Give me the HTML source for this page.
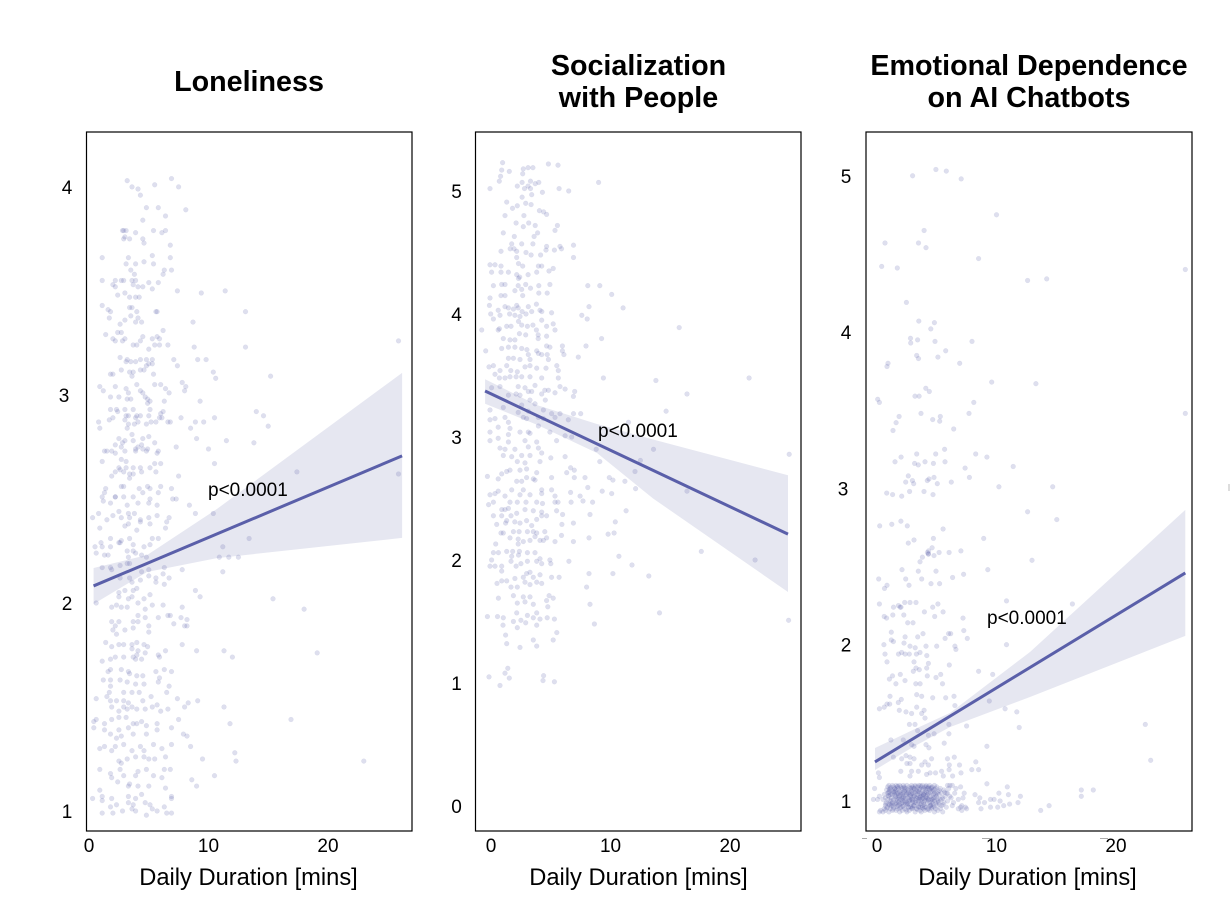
<!DOCTYPE html>
<html lang="en">
<head>
<meta charset="utf-8">
<title>Daily Duration vs Loneliness, Socialization and Emotional Dependence</title>
<style>
html,body{margin:0;padding:0;background:#fff;width:1230px;height:916px;overflow:hidden}
svg{display:block;font-family:"Liberation Sans",Arial,sans-serif}
.title{font-size:28.7px;font-weight:700;text-anchor:middle;fill:#000}
.tick{font-size:19px;fill:#000}
.axis-title{font-size:23.7px;text-anchor:middle;fill:#000}
.pval{font-size:19px;fill:#000}
</style>
</head>
<body>
<svg id="chart" xmlns="http://www.w3.org/2000/svg" width="1230" height="916" viewBox="0 0 1230 916">
  <rect width="1230" height="916" fill="#fff"/>
  <text class="title" x="249" y="91">Loneliness</text>
  <text class="title" x="638.5" y="75">Socialization</text>
  <text class="title" x="638.5" y="107">with People</text>
  <text class="title" x="1029" y="75">Emotional Dependence</text>
  <text class="title" x="1029" y="107">on AI Chatbots</text>
  <text class="axis-title" x="248.5" y="885">Daily Duration [mins]</text>
  <text class="axis-title" x="638.5" y="885">Daily Duration [mins]</text>
  <text class="axis-title" x="1027.5" y="885">Daily Duration [mins]</text>
  <rect x="862" y="838" width="5" height="1" fill="#aaa"/>
  <rect x="982" y="838" width="8" height="1" fill="#aaa"/>
  <rect x="1100" y="838" width="8" height="1" fill="#aaa"/>
  <rect x="1228" y="484" width="2" height="7" fill="#ddd"/>
</svg>
<script>
const xTicks = [0, 10, 20];
const lonelinessYTicks = [1, 2, 3, 4];
const socializationYTicks = [0, 1, 2, 3, 4, 5];
const dependenceYTicks = [1, 2, 3, 4, 5];

const lonelinessFit = [[0.38, 2.082], [26.2, 2.707]];
const socializationFit = [[-0.5, 3.374], [24.85, 2.211]];
const dependenceFit = [[-0.17, 1.25], [25.8, 2.459]];

const lonelinessBandMinutes = [0.38, 4.85, 10.7, 26.2];
const lonelinessBandUpper = [2.168, 2.23, 2.452, 3.106];
const lonelinessBandLower = [1.995, 2.149, 2.216, 2.313];
const socializationBandMinutes = [-0.5, 3.85, 8.87, 13.56, 24.85];
const socializationBandUpper = [3.47, 3.26, 3.106, 2.98, 2.69];
const socializationBandLower = [3.27, 3.10, 2.87, 2.50, 1.74];
const dependenceBandMinutes = [-0.17, 3.0, 6.1, 12.8, 25.8];
const dependenceBandUpper = [1.339, 1.454, 1.563, 1.953, 2.862];
const dependenceBandLower = [1.198, 1.345, 1.473, 1.665, 2.056];

const lonelinessPoints = [
[3.2,4.03],[3.6,4.0],[4.1,3.99],[4.3,3.96],[5.5,4.01],[6.9,4.04],[7.5,4.0],[4.8,3.9],[5.8,3.9],[8.1,3.89],[6.4,3.86],[4.5,3.84],[2.8,3.79],[3.1,3.79],[2.9,3.79],[3.9,3.78],[5.4,3.79],[6.1,3.78],[6.4,3.79],[3.0,3.76],[3.4,3.75],[2.9,3.75],[4.5,3.75],[4.6,3.73],[6.8,3.72],
[1.1,3.66],[3.3,3.66],[5.3,3.67],[6.8,3.66],[4.6,3.64],[3.1,3.63],[3.9,3.63],[5.4,3.63],[3.5,3.6],[3.8,3.58],[6.3,3.6],[6.9,3.6],[6.2,3.58],[1.1,3.55],[2.2,3.55],[2.0,3.53],[2.7,3.55],[2.9,3.55],[3.6,3.55],[3.9,3.55],[5.0,3.54],[5.8,3.54],[3.7,3.53],[4.1,3.52],[4.5,3.52],[2.2,3.52],[5.3,3.51],[7.4,3.5],[9.4,3.49],[11.4,3.5],[2.4,3.48],[3.0,3.49],[3.4,3.47],[3.9,3.47],[4.2,3.47],
[1.1,3.43],[1.6,3.41],[1.8,3.4],[3.4,3.42],[3.6,3.42],[4.0,3.4],[5.6,3.4],[5.7,3.4],[1.7,3.37],[3.5,3.38],[3.0,3.36],[4.1,3.37],[3.9,3.35],[4.4,3.35],[2.6,3.34],[8.7,3.35],[13.1,3.4],[1.4,3.29],[2.4,3.3],[2.7,3.3],[6.2,3.31],[5.7,3.28],[4.5,3.28],[2.0,3.27],[3.0,3.27],[2.2,3.26],[2.8,3.26],[4.3,3.26],[5.3,3.27],[5.9,3.27],[5.5,3.24],[5.9,3.24],[3.7,3.24],[4.0,3.24],[5.0,3.22],[6.6,3.24],[8.8,3.23],[13.1,3.23],[25.9,3.26],
[2.6,3.18],[3.2,3.17],[3.1,3.16],[3.5,3.16],[3.9,3.16],[4.3,3.17],[4.8,3.17],[5.3,3.17],[7.1,3.17],[9.1,3.17],[9.8,3.17],[7.4,3.14],[5.0,3.15],[5.3,3.15],[4.8,3.14],[4.6,3.12],[2.7,3.12],[3.7,3.11],[3.4,3.11],[1.8,3.1],[2.0,3.1],[3.6,3.09],[4.3,3.12],[5.4,3.1],[10.4,3.11],[10.6,3.08],[15.2,3.09],
[0.9,3.04],[2.2,3.04],[4.0,3.05],[3.1,3.03],[4.3,3.02],[5.5,3.05],[6.0,3.05],[7.8,3.06],[8.1,3.04],[8.0,3.02],[6.4,3.03],[6.7,3.01],[1.2,3.02],[1.8,2.99],[2.5,2.99],[3.3,3.01],[3.5,2.98],[3.2,2.98],[4.5,3.01],[4.7,2.99],[4.9,2.98],[5.1,2.97],[4.9,2.96],[6.3,2.97],[9.3,2.97],
[2.3,2.93],[1.8,2.93],[2.4,2.92],[3.0,2.93],[3.7,2.93],[5.1,2.93],[6.2,2.92],[6.0,2.91],[3.1,2.9],[3.3,2.9],[4.0,2.9],[4.3,2.9],[5.0,2.9],[5.9,2.89],[6.1,2.89],[7.7,2.89],[10.5,2.89],[14.0,2.92],[14.6,2.9],[15.0,2.85],
[0.8,2.87],[1.7,2.88],[2.0,2.89],[3.0,2.88],[3.9,2.89],[4.1,2.87],[3.3,2.86],[3.8,2.86],[5.2,2.87],[5.6,2.87],[6.6,2.87],[6.8,2.87],[0.9,2.84],[3.2,2.84],[4.8,2.86],[8.9,2.87],[9.6,2.87],[8.5,2.84],
[3.6,2.81],[2.5,2.79],[4.5,2.79],[5.0,2.8],[9.0,2.79],[3.7,2.78],[2.8,2.77],[2.2,2.76],[3.0,2.78],[4.4,2.76],[5.5,2.77],[2.7,2.75],[3.9,2.74],[4.1,2.75],[4.5,2.74],[4.9,2.74],[7.3,2.75],[11.5,2.78],[13.8,2.77],
[1.3,2.73],[1.5,2.73],[1.9,2.73],[2.2,2.72],[3.0,2.73],[3.9,2.73],[4.8,2.73],[5.8,2.73],[5.7,2.72],[10.0,2.74],[1.1,2.68],[2.7,2.69],[3.1,2.68],[5.5,2.67],[6.0,2.67],[10.5,2.67],[2.5,2.65],[2.6,2.64],[2.9,2.63],[3.1,2.65],[3.7,2.65],[4.3,2.65],[4.4,2.63],[5.1,2.65],[5.6,2.63],[1.9,2.61],[2.2,2.63],[3.4,2.62],[3.7,2.62],[3.4,2.6],[7.5,2.61],[17.4,2.63],[25.9,2.62],
[2.7,2.56],[2.9,2.56],[4.2,2.55],[4.9,2.56],[6.0,2.56],[1.4,2.55],[1.3,2.53],[2.2,2.51],[2.9,2.51],[4.5,2.53],[5.1,2.55],[5.8,2.53],[6.9,2.55],[1.1,2.51],[2.2,2.51],[3.7,2.51],[5.1,2.5],[7.0,2.5],[7.3,2.5],
[1.2,2.49],[1.8,2.48],[3.2,2.47],[4.1,2.48],[5.0,2.48],[5.7,2.47],[8.4,2.47],[0.3,2.41],[0.8,2.43],[1.5,2.4],[2.0,2.42],[2.5,2.44],[3.3,2.43],[3.8,2.43],[2.7,2.41],[3.4,2.41],[4.3,2.4],[5.0,2.41],[5.7,2.42],[6.7,2.41],[8.9,2.43],[10.4,2.43],[0.9,2.36],[3.0,2.37],[3.3,2.38],[4.3,2.39],[5.1,2.38],[6.5,2.39],[6.4,2.36],[4.0,2.35],[1.8,2.31],[2.6,2.29],[3.4,2.31],[2.7,2.3],[5.3,2.31],[5.8,2.31],[1.0,2.29],[0.5,2.27],[1.1,2.27],[1.8,2.27],[2.5,2.29],[3.7,2.28],[4.6,2.27],[5.1,2.28],[13.4,2.31],[11.2,2.27],
[0.6,2.24],[1.3,2.23],[1.6,2.23],[3.2,2.25],[3.7,2.25],[3.9,2.24],[3.3,2.22],[4.4,2.23],[4.8,2.22],[1.1,2.17],[1.8,2.17],[2.6,2.18],[3.2,2.19],[3.4,2.19],[1.9,2.16],[10.9,2.22],[11.7,2.22],[12.5,2.22],[7.8,2.16],[6.3,2.17],[6.2,2.14],[5.0,2.16],[4.4,2.15],[11.2,2.15],
[2.6,2.12],[3.4,2.12],[3.6,2.1],[4.3,2.11],[5.0,2.13],[5.6,2.12],[6.7,2.12],[5.6,2.1],[6.3,2.09],[8.9,2.06],[9.3,2.03],[15.4,2.02],[2.5,2.05],[3.0,2.06],[3.7,2.06],[4.0,2.07],[2.5,2.03],[3.3,2.02],[3.6,2.03],[4.6,2.02],[5.1,2.04],[0.6,2.0],[2.3,1.99],[2.7,1.98],[3.2,1.98],[4.1,2.0],[4.7,1.97],[5.3,1.99],[6.2,1.99],[1.9,1.98],[7.8,1.98],[18.0,1.97],
[4.1,1.94],[5.8,1.93],[6.6,1.94],[6.8,1.94],[7.7,1.93],[8.2,1.92],[1.9,1.91],[2.5,1.91],[3.7,1.91],[4.1,1.91],[4.7,1.93],[5.0,1.89],[7.1,1.9],[8.0,1.89],[8.2,1.89],[2.2,1.89],[2.0,1.87],[3.0,1.87],[3.7,1.88],[5.0,1.86],[2.3,1.85],[1.4,1.81],[1.9,1.79],[2.5,1.8],[2.9,1.8],[3.6,1.8],[4.0,1.81],[4.6,1.8],[4.9,1.79],[7.8,1.8],[3.6,1.78],[4.1,1.77],[4.0,1.75],[4.7,1.76],[6.4,1.77],[9.0,1.77],[11.3,1.77],[5.8,1.75],[19.1,1.76],[12.0,1.74],
[1.1,1.72],[1.8,1.73],[2.2,1.74],[2.9,1.74],[3.7,1.74],[3.9,1.73],[4.4,1.73],[5.9,1.74],[1.6,1.67],[1.8,1.68],[2.7,1.68],[3.4,1.66],[3.3,1.67],[4.0,1.65],[4.5,1.65],[5.6,1.67],[6.3,1.68],[6.9,1.67],[1.2,1.63],[1.8,1.63],[2.6,1.63],[3.2,1.62],[3.9,1.61],[4.6,1.61],[5.8,1.62],[5.9,1.64],[1.8,1.6],[6.7,1.6],[1.7,1.57],[2.9,1.57],[3.6,1.57],[4.2,1.57],[6.5,1.57],[1.5,1.55],[0.6,1.54],[1.8,1.53],[2.3,1.53],[2.9,1.53],[3.3,1.52],[5.2,1.55],[4.5,1.53],[7.4,1.54],[8.3,1.52],[9.1,1.53],
[1.9,1.5],[2.9,1.5],[3.6,1.5],[4.0,1.49],[4.7,1.49],[5.3,1.5],[5.7,1.51],[6.6,1.49],[11.3,1.5],[8.0,1.5],[2.5,1.48],[3.2,1.49],[6.0,1.48],[0.6,1.44],[0.4,1.43],[1.9,1.44],[2.5,1.45],[3.1,1.45],[4.0,1.42],[4.4,1.43],[3.7,1.42],[5.7,1.42],[7.5,1.44],[16.9,1.44],[0.4,1.4],[1.3,1.42],[1.3,1.39],[2.5,1.39],[3.3,1.4],[4.8,1.41],[5.7,1.39],[6.9,1.4],[11.8,1.42],
[1.8,1.37],[2.3,1.35],[2.7,1.36],[3.7,1.37],[4.8,1.37],[7.9,1.37],[8.2,1.36],[0.9,1.3],[1.3,1.31],[1.9,1.29],[2.2,1.31],[2.9,1.32],[3.6,1.29],[4.3,1.31],[4.6,1.29],[5.4,1.32],[6.1,1.3],[6.9,1.32],[8.5,1.31],[2.5,1.24],[2.7,1.23],[3.2,1.25],[3.9,1.26],[4.6,1.26],[5.0,1.25],[5.5,1.25],[6.4,1.26],[9.5,1.25],[12.2,1.28],[12.3,1.24],[23.0,1.24],
[0.9,1.2],[1.8,1.18],[2.6,1.2],[2.9,1.17],[3.9,1.17],[4.1,1.19],[4.8,1.2],[5.4,1.17],[6.3,1.2],[6.8,1.2],[6.1,1.16],[8.6,1.15],[10.5,1.17],[9.0,1.12],[1.9,1.16],[2.4,1.14],[3.3,1.12],[3.4,1.13],[4.1,1.12],[5.0,1.12],[0.9,1.1],[6.4,1.11],[0.3,1.06],[1.1,1.07],[1.9,1.06],[1.1,1.05],[3.3,1.07],[3.9,1.06],[4.4,1.08],[6.9,1.07],[6.9,1.06],[1.8,1.02],[2.3,1.03],[2.8,1.0],[3.3,1.04],[3.7,1.03],[4.7,1.04],[5.1,1.03],[5.3,1.01],[6.3,1.02],[1.1,0.99],[2.0,0.99],[3.9,1.0],[4.8,0.98],[6.5,0.99],[6.9,0.99],[5.7,1.0],[3.6,1.01]
];

const socializationPoints = [
[0.97,5.23],[0.89,5.17],[1.53,5.16],[0.8,5.12],[0.69,5.08],[2.7,5.18],[3.1,5.19],[3.5,5.19],[2.65,5.14],[4.8,5.22],[5.6,5.21],[9.0,5.07],[-0.09,5.02],[2.2,5.04],[2.6,5.07],[3.3,5.08],[3.7,5.06],[4.0,5.07],[2.8,5.02],[3.1,5.04],[3.3,5.02],[4.3,4.99],[5.7,5.02],[6.5,5.0],
[3.4,4.97],[2.6,4.95],[1.31,4.91],[2.9,4.9],[3.35,4.89],[2.2,4.88],[1.8,4.86],[1.17,4.8],[2.75,4.8],[4.05,4.84],[4.4,4.83],[4.65,4.81],[2.1,4.74],[3.15,4.74],[2.7,4.71],[3.7,4.72],[5.55,4.72],[5.35,4.68],[1.03,4.66],[3.9,4.66],[3.6,4.63],[1.95,4.63],[1.73,4.57],[3.5,4.57],[1.6,4.53],[1.92,4.53],[2.57,4.57],[5.77,4.55],[4.65,4.55],[0.83,4.51],[2.15,4.51],[2.93,4.5],[3.35,4.48],[4.15,4.48],[4.6,4.52],[5.3,4.52],[5.9,4.53],[6.9,4.56],[6.9,4.46],[2.15,4.46],
[-0.09,4.4],[0.33,4.4],[0.83,4.39],[2.3,4.41],[2.65,4.39],[3.96,4.39],[4.24,4.39],[0.05,4.34],[0.83,4.34],[1.45,4.34],[3.1,4.32],[2.4,4.3],[3.82,4.34],[4.85,4.35],[5.2,4.37],[2.15,4.32],[2.3,4.29],[0.2,4.23],[0.89,4.24],[1.17,4.24],[2.27,4.23],[2.9,4.24],[2.57,4.2],[3.3,4.21],[4.0,4.23],[4.93,4.24],[8.1,4.23],[9.1,4.23],[0.83,4.15],[1.17,4.15],[2.0,4.19],[4.0,4.17],[4.7,4.17],[-0.09,4.13],[2.65,4.15],[10.1,4.16],
[-0.14,4.07],[2.15,4.07],[0.6,4.03],[1.17,4.06],[1.45,4.05],[1.87,4.04],[2.27,4.05],[2.6,4.02],[3.12,4.06],[3.8,4.08],[4.1,4.03],[0.2,3.96],[-0.03,4.0],[0.75,3.99],[1.55,4.0],[2.0,3.99],[2.42,3.98],[2.93,4.0],[3.4,4.02],[4.25,4.02],[5.07,4.01],[8.2,4.06],[11.05,4.05],[7.6,3.99],[8.05,3.96],
[-0.78,3.87],[0.6,3.87],[1.31,3.9],[1.67,3.9],[2.57,3.91],[3.04,3.9],[3.5,3.91],[5.2,3.92],[4.24,3.95],[2.3,3.94],[4.65,3.9],[3.8,3.87],[5.35,3.87],[15.75,3.89],[0.7,3.88],[1.03,3.8],[1.59,3.79],[2.0,3.79],[2.37,3.84],[2.9,3.83],[3.95,3.83],[4.65,3.82],[3.95,3.8],[9.25,3.8],
[-0.45,3.7],[0.89,3.72],[1.45,3.73],[2.0,3.73],[2.57,3.72],[3.0,3.71],[3.82,3.7],[4.65,3.74],[4.93,3.73],[5.97,3.74],[5.97,3.7],[7.95,3.74],[1.45,3.64],[1.87,3.64],[2.42,3.63],[3.12,3.67],[3.26,3.63],[3.96,3.68],[4.24,3.67],[4.7,3.67],[4.8,3.63],[6.1,3.67],[7.3,3.65],
[-0.17,3.57],[0.2,3.58],[0.75,3.54],[1.31,3.58],[1.65,3.54],[2.2,3.53],[2.84,3.57],[3.26,3.58],[3.82,3.56],[5.5,3.58],[5.63,3.54],[0.33,3.51],[0.7,3.48],[1.17,3.48],[1.59,3.49],[2.1,3.49],[2.57,3.49],[3.26,3.49],[4.24,3.48],[4.6,3.56],[5.63,3.48],[9.4,3.48],[13.8,3.46],[21.6,3.48],
[0.05,3.4],[0.75,3.41],[2.27,3.41],[2.84,3.4],[3.68,3.42],[4.5,3.38],[4.8,3.38],[5.77,3.41],[6.2,3.39],[7.0,3.37],[16.4,3.35],[2.1,3.35],[2.42,3.34],[3.12,3.37],[3.4,3.37],[5.35,3.36],[6.89,3.33],[1.45,3.34],[3.26,3.3],[4.24,3.35],[4.54,3.3],[2.57,3.26],[3.68,3.27],
[-0.09,3.22],[1.03,3.24],[2.27,3.2],[3.12,3.21],[4.38,3.22],[5.07,3.19],[5.77,3.19],[6.9,3.19],[7.5,3.19],[14.65,3.21],[0.33,3.15],[1.17,3.16],[1.45,3.12],[2.7,3.16],[2.98,3.15],[3.96,3.16],[4.38,3.15],[5.35,3.16],[6.47,3.14],[-0.09,3.14],[11.5,3.12],
[0.6,3.08],[1.59,3.07],[2.42,3.04],[3.12,3.04],[3.96,3.09],[4.93,3.04],[-0.09,3.04],[6.2,3.01],[6.75,3.0],[1.45,3.02],[3.26,3.03],[-0.09,2.97],[0.6,2.99],[1.45,2.96],[2.84,2.97],[3.82,2.96],[5.49,2.97],[0.75,2.91],[1.17,2.9],[2.0,2.9],[3.12,2.92],[3.96,2.91],[4.24,2.87],[8.8,2.9],[13.6,2.9],[24.95,2.86],
[1.03,2.85],[1.73,2.84],[2.57,2.85],[3.26,2.85],[5.0,2.83],[6.2,2.84],[2.2,2.8],[2.84,2.79],[4.1,2.8],[9.1,2.8],[12.5,2.81],[6.66,2.75],[6.97,2.73],[12.05,2.72],[0.89,2.7],[1.31,2.72],[1.59,2.73],[2.42,2.73],[2.98,2.74],[3.82,2.71],[0.6,2.66],[-0.3,2.68],[6.33,2.71],[2.98,2.67],[3.54,2.66],[5.07,2.67],[6.97,2.67],[7.86,2.67],[9.9,2.67],[10.2,2.65],[11.2,2.64],
[2.15,2.64],[2.57,2.64],[3.68,2.65],[8.1,2.59],[9.3,2.56],[12.1,2.58],[16.4,2.56],[0.6,2.56],[1.73,2.57],[2.7,2.57],[4.24,2.57],[5.07,2.57],[-0.09,2.53],[0.33,2.54],[1.17,2.52],[2.42,2.53],[3.26,2.53],[4.24,2.54],[5.35,2.52],[6.66,2.55],[7.45,2.52],[10.1,2.54],
[-0.2,2.45],[0.2,2.47],[1.59,2.47],[2.2,2.47],[2.93,2.47],[3.82,2.47],[4.31,2.46],[5.35,2.47],[5.6,2.47],[6.7,2.47],[7.7,2.48],[8.5,2.47],[0.9,2.41],[1.17,2.41],[1.45,2.42],[0.2,2.36],[0.89,2.36],[1.67,2.36],[2.15,2.38],[2.84,2.41],[3.54,2.4],[4.24,2.39],[5.49,2.4],[5.99,2.37],[8.28,2.37],[11.3,2.4],
[1.31,2.32],[1.99,2.31],[2.42,2.3],[2.98,2.32],[3.82,2.33],[4.24,2.36],[4.65,2.36],[0.47,2.29],[1.22,2.3],[3.4,2.28],[5.93,2.29],[6.89,2.3],[10.4,2.31],[0.83,2.22],[1.03,2.22],[1.87,2.23],[2.35,2.23],[3.04,2.23],[3.54,2.23],[3.82,2.22],[4.5,2.23],[9.8,2.21],[10.3,2.22],
[1.59,2.18],[2.27,2.17],[3.26,2.16],[3.68,2.19],[4.38,2.16],[4.65,2.18],[5.9,2.2],[8.2,2.18],[0.39,2.13],[2.27,2.13],[2.7,2.15],[4.1,2.16],[5.35,2.15],[6.89,2.15],[0.2,2.06],[0.62,2.06],[1.31,2.07],[1.81,2.07],[2.37,2.07],[3.04,2.06],[3.68,2.06],[2.3,2.04],[1.73,2.03],[0.05,2.0],[4.1,2.01],[4.93,2.0],[6.52,1.99],[10.7,2.03],[17.6,2.07],[22.1,2.0],
[1.67,1.99],[2.5,1.97],[3.04,1.99],[3.82,1.99],[5.0,1.97],[-0.09,1.95],[0.33,1.95],[0.89,1.95],[2.1,1.95],[4.24,1.97],[11.8,1.96],[0.89,1.91],[2.98,1.89],[3.26,1.9],[4.1,1.88],[8.2,1.89],[10.2,1.89],[2.0,1.85],[2.7,1.86],[3.54,1.86],[5.07,1.86],[5.7,1.86],[13.2,1.87],[0.5,1.81],[0.89,1.83],[1.31,1.83],[2.84,1.82],[3.82,1.82],[4.24,1.81],[3.26,1.8],[1.67,1.78],[2.2,1.78],[8.0,1.78],
[0.62,1.69],[1.87,1.71],[2.7,1.7],[3.26,1.7],[4.86,1.71],[5.2,1.69],[2.84,1.66],[2.2,1.65],[3.54,1.64],[4.65,1.67],[4.75,1.62],[8.28,1.64],[2.15,1.57],[3.04,1.55],[3.82,1.57],[14.1,1.57],[-0.3,1.54],[0.54,1.54],[1.03,1.53],[3.54,1.53],[4.1,1.52],[4.7,1.53],[5.3,1.52],[1.87,1.5],[2.5,1.51],[1.0,1.47],[2.2,1.45],[2.9,1.49],[3.82,1.47],[8.65,1.48],[24.9,1.51],[5.5,1.41],[1.22,1.39],[3.54,1.35],[5.2,1.35],[1.31,1.32],[2.42,1.29],[3.82,1.3],[1.4,1.12],[1.17,1.08],[1.53,1.04],[-0.17,1.05],[0.75,0.98],[4.4,1.06],[4.35,1.02],[5.3,1.01]
];

const dependencePoints = [
[2.98,5.0],[4.93,5.04],[5.8,5.03],[7.05,4.98],[10.0,4.75],[3.94,4.65],[0.67,4.57],[3.47,4.57],[4.1,4.54],[8.5,4.47],[0.39,4.42],[1.7,4.41],[12.6,4.33],[14.2,4.34],[25.8,4.4],[2.46,4.19],[3.5,4.07],[4.8,4.06],[4.5,4.02],[2.8,3.96],[2.82,3.93],[3.4,3.95],[4.85,3.94],[7.95,3.94],[5.75,3.88],[3.32,3.85],[3.47,3.83],[5.1,3.84],[0.92,3.8],[0.84,3.78],[6.92,3.8],[9.6,3.68],[13.3,3.67],[4.08,3.64],[4.38,3.62],[3.18,3.59],[3.52,3.59],[0.06,3.57],[0.2,3.55],[8.1,3.55],[1.85,3.46],[3.68,3.48],[1.6,3.42],[7.7,3.48],[5.3,3.46],[4.66,3.44],[5.25,3.43],[25.8,3.48],[1.34,3.37],[6.42,3.38],
[5.66,3.25],[3.32,3.22],[4.91,3.22],[2.02,3.2],[8.26,3.22],[9.2,3.2],[1.51,3.17],[3.15,3.16],[3.46,3.15],[4.02,3.17],[4.72,3.16],[5.69,3.17],[7.37,3.13],[11.4,3.14],[2.62,3.08],[4.77,3.07],[7.73,3.07],[2.4,3.04],[2.96,3.05],[3.07,3.03],[4.21,3.05],[4.35,3.06],[5.05,3.03],[6.22,3.04],[10.2,3.01],[14.7,3.01],[0.81,2.97],[1.31,2.96],[2.07,2.95],[2.73,2.98],[3.93,2.98],[4.69,2.96],
[12.6,2.85],[15.05,2.8],[0.23,2.76],[1.24,2.77],[2.0,2.79],[2.54,2.76],[5.53,2.74],[8.93,2.68],[2.62,2.65],[3.1,2.67],[4.72,2.68],[4.22,2.59],[4.32,2.6],[4.3,2.58],[4.3,2.58],[4.61,2.62],[5.2,2.59],[6.03,2.59],[7.02,2.6],[4.77,2.57],[3.8,2.56],[3.6,2.53],
[12.97,2.54],[2.09,2.48],[3.46,2.47],[4.94,2.47],[9.27,2.48],[7.25,2.45],[6.33,2.43],[0.14,2.42],[2.4,2.42],[3.74,2.42],[5.24,2.39],[2.68,2.38],[4.52,2.39],[0.84,2.38],[0.63,2.36],[1.79,2.25],[2.01,2.24],[2.32,2.27],[2.76,2.27],[3.26,2.27],[10.84,2.28],[16.35,2.26],[0.2,2.26],[1.38,2.24],[1.93,2.24],[4.66,2.24],[5.1,2.26],[5.53,2.21],[3.97,2.21],[2.24,2.19],[0.6,2.18],[0.8,2.17],[1.32,2.19],[4.83,2.18],[7.2,2.17],[2.57,2.14],[3.01,2.14],
[1.2,2.08],[7.26,2.09],[5.99,2.07],[6.17,2.07],[5.7,2.04],[7.56,2.04],[3.85,2.07],[3.41,2.05],[2.35,2.05],[1.2,2.03],[1.37,2.02],[0.58,2.0],[2.26,2.01],[10.84,2.0],[2.76,1.99],[3.2,1.98],[4.1,1.99],[5.0,1.99],[6.52,1.99],[6.6,1.97],[0.67,1.94],[1.8,1.94],[2.07,1.95],[2.35,1.94],[2.7,1.94],[3.3,1.94],[3.6,1.95],[4.17,1.93],[0.84,1.89],[3.1,1.89],[4.3,1.88],[6.05,1.87],[3.26,1.85],[3.54,1.84],[4.16,1.85],[8.5,1.83],[3.04,1.83],[1.95,1.81],[1.3,1.8],[1.04,1.78],[4.21,1.8],[4.94,1.79],[5.33,1.81],[9.68,1.81],[2.34,1.77],[1.58,1.75],[3.25,1.75],[3.61,1.75],[5.48,1.75],
[1.09,1.67],[3.32,1.68],[3.74,1.67],[4.66,1.66],[5.75,1.66],[6.44,1.67],[2.03,1.65],[1.78,1.63],[1.06,1.62],[0.84,1.62],[0.6,1.6],[0.2,1.59],[9.4,1.64],[6.52,1.61],[10.72,1.59],[1.87,1.58],[2.43,1.57],[2.9,1.56],[3.74,1.56],[3.32,1.6],[3.94,1.58],[4.02,1.53],[11.7,1.57],[2.71,1.49],[3.18,1.49],[6.02,1.49],[7.5,1.48],[11.9,1.47],[22.45,1.49],[3.4,1.45],[4.3,1.42],[4.78,1.43],[6.02,1.43],[1.16,1.39],[2.2,1.39],[2.9,1.36],[4.1,1.36],[5.62,1.37],[4.34,1.34],[9.2,1.35],[3.1,1.35],[22.9,1.26],
[1.37,1.28],[2.07,1.27],[2.43,1.29],[2.76,1.28],[3.1,1.27],[2.5,1.24],[2.76,1.24],[4.02,1.25],[4.57,1.27],[5.9,1.27],[6.47,1.28],[6.05,1.23],[6.9,1.23],[8.27,1.25],[4.3,1.23],[3.74,1.23],[1.99,1.19],[2.9,1.19],[3.46,1.19],[4.9,1.18],[5.41,1.19],[6.03,1.2],[7.03,1.18],[7.93,1.2],[8.5,1.2],[0.12,1.18],[2.76,1.16],[4.15,1.17],[4.44,1.18],[5.55,1.16],[6.33,1.16],[0.2,1.15],
[1.0,1.10],[1.3,1.10],[1.6,1.10],[1.9,1.10],[2.2,1.10],[2.5,1.10],[2.9,1.10],[3.2,1.10],[3.5,1.10],[3.8,1.10],[4.1,1.10],[4.4,1.10],[4.8,1.10],[5.9,1.10],[6.1,1.10],[6.3,1.10],[0.9,1.09],[1.4,1.09],[1.7,1.09],[2.0,1.09],[2.3,1.09],[2.7,1.09],[3.0,1.09],[3.4,1.09],[3.7,1.09],[4.0,1.09],[4.3,1.09],[4.6,1.09],[5.0,1.09],[1.1,1.08],[1.5,1.08],[1.8,1.08],[2.1,1.08],[2.4,1.08],[2.8,1.08],[3.1,1.08],[3.6,1.08],[3.9,1.08],[4.2,1.08],[4.5,1.08],[4.9,1.08],[5.3,1.08],[6.0,1.08],[0.8,1.07],[1.2,1.07],[1.6,1.07],[2.0,1.07],[2.6,1.07],[3.3,1.07],[3.8,1.07],[4.4,1.07],[4.7,1.07],[5.6,1.07],[1.0,1.06],[1.4,1.06],[1.9,1.06],[2.3,1.06],[2.9,1.06],[3.5,1.06],[4.1,1.06],[4.6,1.06],[5.1,1.06],[0.9,1.05],[1.3,1.05],[1.7,1.05],[2.2,1.05],[2.5,1.05],[3.0,1.05],[3.2,1.05],[3.7,1.05],[4.0,1.05],[4.3,1.05],[4.8,1.05],[5.4,1.05],[5.8,1.05],[6.5,1.05],[1.1,1.04],[1.5,1.04],[2.1,1.04],[2.7,1.04],[3.4,1.04],[3.9,1.04],[4.2,1.04],[4.9,1.04],[5.2,1.04],[1.0,1.03],[1.6,1.03],[1.9,1.03],[2.4,1.03],[2.8,1.03],[3.1,1.03],[3.6,1.03],[4.5,1.03],[5.0,1.03],[5.7,1.03],[0.7,1.02],[1.2,1.02],[1.8,1.02],[2.2,1.02],[2.6,1.02],[3.3,1.02],[3.8,1.02],[4.1,1.02],[4.7,1.02],[5.5,1.02],[6.2,1.02],[0.2,1.03],[0.5,1.01],[0.9,1.01],[1.4,1.01],[2.0,1.01],[2.9,1.01],[3.5,1.01],[4.3,1.01],[4.6,1.01],[5.3,1.01],[1.1,1.0],[1.7,1.0],[2.3,1.0],[2.7,1.0],[3.0,1.0],[3.7,1.0],[4.0,1.0],[4.8,1.0],[5.1,1.0],[5.9,1.0],[0.8,0.99],[1.3,0.99],[1.6,0.99],[2.1,0.99],[2.5,0.99],[3.2,0.99],[3.9,0.99],[4.4,0.99],[5.6,0.99],[6.4,0.99],[1.0,0.98],[1.5,0.98],[1.9,0.98],[2.4,0.98],[2.8,0.98],[3.4,0.98],[3.6,0.98],[4.2,0.98],[4.7,0.98],[5.2,0.98],[0.7,0.97],[1.2,0.97],[1.8,0.97],[2.2,0.97],[3.1,0.97],[3.8,0.97],[4.5,0.97],[5.0,0.97],[5.4,0.97],[0.9,0.96],[1.4,0.96],[2.0,0.96],[2.6,0.96],[3.0,0.96],[3.5,0.96],[4.1,0.96],[4.6,0.96],[5.8,0.96],[0.6,0.95],[1.1,0.95],[1.7,0.95],[2.3,0.95],[2.9,0.95],[3.3,0.95],[3.9,0.95],[4.3,0.95],[4.9,0.95],[0.3,0.94],[0.7,0.94],[1.3,0.94],[1.6,0.94],[2.1,0.94],[2.7,0.94],[3.6,0.94],[4.0,0.94],[4.4,0.94],[5.1,0.94],[0.2,0.93],[0.5,0.93],[1.0,0.93],[1.9,0.93],[2.5,0.93],[3.2,0.93],[3.7,0.93],[4.8,0.93],[5.5,0.93],
[6.6,1.08],[7.0,1.09],[5.9,1.05],[6.1,1.03],[6.8,1.01],[7.2,1.02],[7.0,0.96],[6.3,0.97],[7.1,0.97],[6.8,0.95],[7.4,0.96],[7.1,0.94],[7.5,0.95],[10.9,1.09],[-0.2,1.08],[-0.3,1.01],[0.05,1.01],[8.2,1.04],[8.6,1.02],[10.2,1.05],[9.2,1.11],[7.3,1.05],[11.0,1.04],[12.0,1.03],[17.1,1.07],[17.1,1.03],[18.1,1.07],[8.5,0.99],[9.0,0.99],[9.5,1.01],[9.8,1.01],[10.3,1.0],[10.6,0.97],[11.1,0.98],[11.8,0.99],[8.7,0.95],[9.5,0.96],[10.1,0.96],[13.7,0.94],[14.4,0.97]
];

const dependenceClusterPoints = [
[1.15,1.087],[1.73,1.094],[2.34,1.071],[2.87,1.083],[3.26,1.062],[3.64,1.097],[4.03,1.074],[4.56,1.085],[1.42,1.056],[1.97,1.045],[2.62,1.053],[3.13,1.036],[3.58,1.047],[4.17,1.055],[4.72,1.043],[5.22,1.066],[0.95,1.034],[1.53,1.026],[2.08,1.018],[2.47,1.041],[2.96,1.012],[3.42,1.025],[3.86,1.016],[4.38,1.033],[4.84,1.021],[1.24,1.004],[1.86,1.011],[2.38,0.994],[2.75,1.007],[3.28,1.002],[3.73,0.986],[4.27,1.006],[4.62,0.993],[5.06,1.013],[1.07,0.975],[1.63,0.982],[2.17,0.966],[2.53,0.984],[3.07,0.972],[3.47,0.965],[3.95,0.978],[4.52,0.974],[4.93,0.986],[0.82,0.956],[1.35,0.948],[1.92,0.954],[2.44,0.942],[2.83,0.963],[3.36,0.947],[3.81,0.957],[4.24,0.945],[4.76,0.962],[5.31,0.951],[1.48,1.076],[2.21,1.028],[2.69,1.009],[3.18,0.991],[3.54,1.072],[4.09,1.027],[4.41,0.969],[1.78,1.037],[2.03,0.983],[2.91,1.067],[3.35,1.014],[3.92,1.039],[4.48,1.058],[1.27,1.041],[1.69,0.965],[2.58,0.977],[3.02,1.024],[3.66,0.959],[4.13,1.091],[1.04,1.072],[1.57,1.061],[2.27,1.083],[2.79,1.038],[3.23,1.092],[3.77,1.031],[4.34,1.081],[4.68,1.011],[5.14,0.992],[1.83,0.992],[2.12,1.052],[2.96,0.953],[3.51,0.996],[3.99,0.961],[4.58,0.953],[1.33,0.972],[2.36,1.016],[2.86,1.048],[3.11,1.078],[3.69,1.012],[4.21,1.017],[0.98,1.053],[1.62,1.012],[2.16,1.002],[2.66,0.961],[3.39,1.059],[3.84,1.046],[4.46,1.004],[5.02,1.049],[5.45,1.012],[1.18,0.984],[1.75,1.049],[2.49,1.063],[2.98,0.989],[3.59,1.021],[4.07,1.008],[4.81,1.073],[0.72,0.983],[0.61,1.042],[5.66,1.057],[5.52,0.978]
];

const svg = document.getElementById('chart');
const NS = 'http://www.w3.org/2000/svg';
const dotColor = '#5a5ea8';

function linearAxis(domainMin, domainMax, rangeMin, rangeMax) {
  return function (v) {
    return rangeMin + (v - domainMin) * (rangeMax - rangeMin) / (domainMax - domainMin);
  };
}

function makeEl(tag, attrs) {
  const el = document.createElementNS(NS, tag);
  for (const k in attrs) el.setAttribute(k, attrs[k]);
  return el;
}

function drawPanel(cfg) {
  const sx = linearAxis(cfg.xDomain[0], cfg.xDomain[1], cfg.left, cfg.right);
  const sy = linearAxis(cfg.yDomain[0], cfg.yDomain[1], 831, 132);

  const panel = makeEl('g', {});
  
  
  svg.appendChild(panel);

  const upperPath = cfg.bandX.map(function (x, i) { return sx(x).toFixed(1) + ',' + sy(cfg.bandUpper[i]).toFixed(1); });
  const lowerPath = cfg.bandX.map(function (x, i) { return sx(x).toFixed(1) + ',' + sy(cfg.bandLower[i]).toFixed(1); }).reverse();
  const band = makeEl('polygon', { points: upperPath.concat(lowerPath).join(' '), fill: '#e6e7f1' });
  
  
  panel.appendChild(band);

  const dots = makeEl('g', { fill: dotColor, 'fill-opacity': 0.2, stroke: dotColor, 'stroke-opacity': 0.1, 'stroke-width': 0.5 });
  
  
  panel.appendChild(dots);
  cfg.points.forEach(function (p) {
    const dot = makeEl('circle', { cx: sx(p[0]).toFixed(1), cy: sy(p[1]).toFixed(1), r: 2.4 });
    
    
    dots.appendChild(dot);
  });

  const fit = makeEl('line', {
    x1: sx(cfg.fit[0][0]), y1: sy(cfg.fit[0][1]),
    x2: sx(cfg.fit[1][0]), y2: sy(cfg.fit[1][1]),
    stroke: '#5a5fa9', 'stroke-width': 3
  });
  
  
  panel.appendChild(fit);

  const frame = makeEl('rect', {
    x: cfg.left, y: 132, width: cfg.right - cfg.left, height: 699,
    fill: 'none', stroke: '#000', 'stroke-width': 1.2
  });
  
  
  panel.appendChild(frame);

  xTicks.forEach(function (t, i) {
    const label = makeEl('text', { x: sx(t) + cfg.xTickShift[i], y: 852, 'text-anchor': 'middle', class: 'tick' });
    
    
    label.textContent = String(t);
    panel.appendChild(label);
  });

  cfg.yTicks.forEach(function (t, i) {
    const label = makeEl('text', { x: cfg.yLabelX + cfg.yTickShift[i], y: sy(t) + 7, 'text-anchor': 'middle', class: 'tick' });
    
    
    label.textContent = String(t);
    panel.appendChild(label);
  });

  const pval = makeEl('text', { x: cfg.pX, y: cfg.pY, class: 'pval' });
  
  
  pval.textContent = 'p<0.0001';
  panel.appendChild(pval);
}

drawPanel({
  name: 'loneliness', left: 86.5, right: 412,
  xDomain: [-0.21, 27.03], yDomain: [0.904, 4.264],
  points: lonelinessPoints, fit: lonelinessFit,
  bandX: lonelinessBandMinutes, bandUpper: lonelinessBandUpper, bandLower: lonelinessBandLower,
  yTicks: lonelinessYTicks, yLabelX: 67, yTickShift: [0, 0, -3, 0], xTickShift: [0, 0, 0],
  pX: 208, pY: 496
});
drawPanel({
  name: 'socialization', left: 475.5, right: 801,
  xDomain: [-1.3, 25.94], yDomain: [-0.203, 5.48],
  points: socializationPoints, fit: socializationFit,
  bandX: socializationBandMinutes, bandUpper: socializationBandUpper, bandLower: socializationBandLower,
  yTicks: socializationYTicks, yLabelX: 456.5, yTickShift: [0, 0, 0, 0, 0, 0], xTickShift: [0, 0, 0],
  pX: 598, pY: 437
});
drawPanel({
  name: 'dependence', left: 866, right: 1192,
  xDomain: [-0.92, 26.36], yDomain: [0.808, 5.28],
  points: dependencePoints.concat(dependenceClusterPoints), fit: dependenceFit,
  bandX: dependenceBandMinutes, bandUpper: dependenceBandUpper, bandLower: dependenceBandLower,
  yTicks: dependenceYTicks, yLabelX: 846, yTickShift: [0, 0, -3, 0, 0], xTickShift: [0, 0, 0],
  pX: 987, pY: 624
});
</script>
</body>
</html>
